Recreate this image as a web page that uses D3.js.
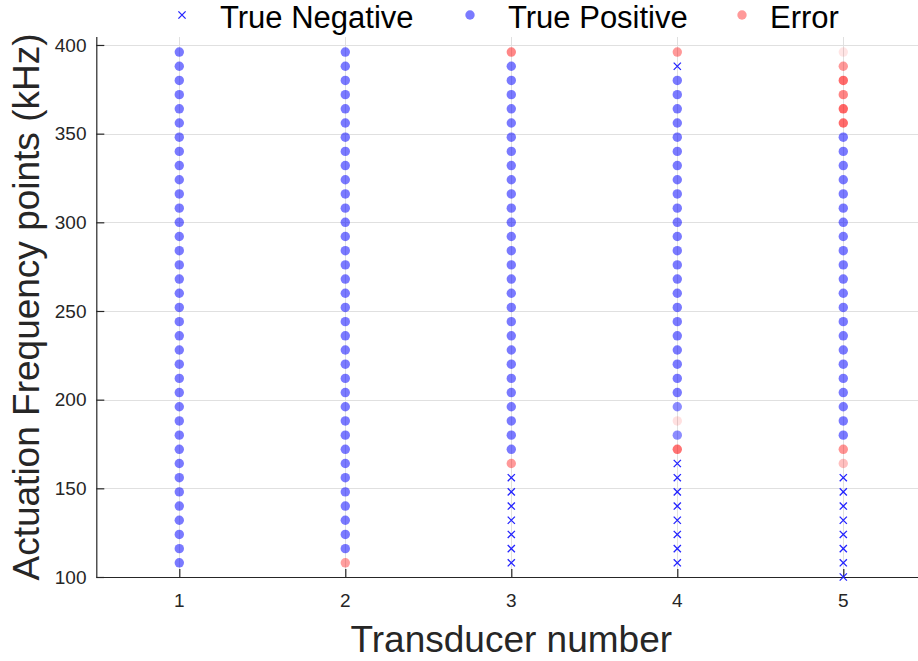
<!DOCTYPE html>
<html>
<head>
<meta charset="utf-8">
<script src="https://cdn.jsdelivr.net/npm/d3@7"></script>
<style>
  html, body { margin: 0; padding: 0; background: #fff; }
  svg { display: block; font-family: "Liberation Sans", Arial, Helvetica, sans-serif; }
</style>
</head>
<body>
<svg id="chart" width="918" height="661"></svg>
<script>
// Transducers on the x axis
const transducers = [1, 2, 3, 4, 5];

// Actuation frequency points (kHz), bottom to top
const frequencies = [100, 108, 116, 124, 132, 140, 148, 156, 164, 172, 180, 188, 196,
  204, 212, 220, 228, 236, 244, 252, 260, 268, 276, 284, 292, 300, 308, 316, 324,
  332, 340, 348, 356, 364, 372, 380, 388, 396];

// Outcome per transducer, one letter per frequency point (groups of 8 points):
// N = true negative, P = true positive, E = error, . = not tested
const outcomeT1 = ".PPPPPPP PPPPPPPP PPPPPPPP PPPPPPPP PPPPPP";
const outcomeT2 = ".EPPPPPP PPPPPPPP PPPPPPPP PPPPPPPP PPPPPP";
const outcomeT3 = ".NNNNNNN EPPPPPPP PPPPPPPP PPPPPPPP PPPPPE";
const outcomeT4 = ".NNNNNNN NEPEPPPP PPPPPPPP PPPPPPPP PPPPNE";
const outcomeT5 = "NNNNNNNN EEPPPPPP PPPPPPPP PPPPPPPP EEEEEE";

// Marker shading where it differs from the default: [transducer, kHz, opacity]
const markerOpacity = [
  [2, 108, 0.38],
  [3, 396, 0.47],
  [4, 172, 0.55], [4, 180, 0.45], [4, 188, 0.12], [4, 196, 0.45], [4, 396, 0.4],
  [5, 164, 0.25], [5, 172, 0.42], [5, 356, 0.58], [5, 364, 0.6], [5, 372, 0.48],
  [5, 380, 0.58], [5, 388, 0.4], [5, 396, 0.1]
];

const legendLabels = ["True Negative", "True Positive", "Error"];
const yTicks = [100, 150, 200, 250, 300, 350, 400];

// ---- build point table ----
const outcomeRows = [outcomeT1, outcomeT2, outcomeT3, outcomeT4, outcomeT5];
const defaultOpacity = { P: 0.52, E: 0.4 };
const points = [];
transducers.forEach((t, ti) => {
  const codes = outcomeRows[ti].replace(/ /g, "");
  frequencies.forEach((f, fi) => {
    const c = codes[fi];
    if (c === "." || c === undefined) return;
    const ov = markerOpacity.find(d => d[0] === t && d[1] === f);
    points.push({ t, f, c, o: ov ? ov[2] : (defaultOpacity[c] || 1) });
  });
});

// ---- layout ----
const svg = d3.select("#chart");
const W = 918, H = 661;
svg.append("rect").attr("width", W).attr("height", H).attr("fill", "#fff");

const x = d3.scaleLinear().domain([0.5, 5.5]).range([96.3, 926.3]);
const y = d3.scaleLinear().domain([100, 404.5]).range([577, 37]);
const [yBottom, yTop] = y.range();
const xLeft = x.range()[0];

const axisColor = "#262626";
const gridColor = "#e0e0e0";

// grid
const grid = svg.append("g");
grid.selectAll("line.h").data(yTicks).join("line")
  .attr("x1", xLeft).attr("x2", W)
  .attr("y1", d => Math.round(y(d)) + 0.5).attr("y2", d => Math.round(y(d)) + 0.5)
  .attr("stroke", gridColor).attr("stroke-width", 1);
grid.selectAll("line.v").data(transducers).join("line")
  .attr("x1", d => Math.round(x(d)) + 0.5).attr("x2", d => Math.round(x(d)) + 0.5)
  .attr("y1", yTop).attr("y2", yBottom)
  .attr("stroke", gridColor).attr("stroke-width", 1);

// axes (inward ticks)
const yAxis = d3.axisRight(y).tickValues(yTicks).tickSize(8).tickFormat("");
const gy = svg.append("g").attr("transform", `translate(${xLeft},0)`).call(yAxis);
gy.select(".domain").attr("d", `M0.5,${yTop}V${yBottom}`);
gy.selectAll("line, path").attr("stroke", axisColor).attr("stroke-width", 1.2);

const xAxis = d3.axisTop(x).tickValues(transducers).tickSize(8).tickFormat("");
const gx = svg.append("g").attr("transform", `translate(0,${yBottom})`).call(xAxis);
gx.select(".domain").attr("d", `M${xLeft},0.5H${W}`);
gx.selectAll("line, path").attr("stroke", axisColor).attr("stroke-width", 1.2);

// tick labels
svg.append("g").selectAll("text").data(yTicks).join("text")
  .attr("x", 86.5).attr("y", d => y(d)).attr("dy", "0.35em")
  .attr("text-anchor", "end").attr("font-size", 19).attr("fill", axisColor)
  .text(d => d);
svg.append("g").selectAll("text").data(transducers).join("text")
  .attr("x", d => x(d)).attr("y", 607)
  .attr("text-anchor", "middle").attr("font-size", 19).attr("fill", axisColor)
  .text(d => d);

// axis titles
svg.append("text")
  .attr("x", (x.range()[0] + x.range()[1]) / 2).attr("y", 652)
  .attr("text-anchor", "middle").attr("font-size", 37).attr("fill", axisColor)
  .text("Transducer number");
svg.append("text")
  .attr("transform", `translate(38.5,${(yTop + yBottom) / 2 + 0}) rotate(-90)`)
  .attr("text-anchor", "middle").attr("font-size", 37).attr("fill", axisColor)
  .text("Actuation Frequency points (kHz)");

// markers
const R = 4.7, X = 3.6;
const crossPath = (cx, cy, s) => `M${cx - s},${cy - s}L${cx + s},${cy + s}M${cx - s},${cy + s}L${cx + s},${cy - s}`;
const marks = svg.append("g");
marks.selectAll("circle").data(points.filter(d => d.c !== "N")).join("circle")
  .attr("cx", d => x(d.t)).attr("cy", d => y(d.f)).attr("r", R)
  .attr("fill", d => d.c === "P" ? "#0000ff" : "#ff0000")
  .attr("fill-opacity", d => d.o);
marks.selectAll("path").data(points.filter(d => d.c === "N")).join("path")
  .attr("d", d => crossPath(x(d.t), y(d.f), X))
  .attr("stroke", "#2424ff").attr("stroke-width", 1.3).attr("fill", "none");

// legend
const legend = svg.append("g");
const legendItems = [
  { label: legendLabels[0], c: "N", mx: 182, tx: 220 },
  { label: legendLabels[1], c: "P", mx: 470, tx: 508 },
  { label: legendLabels[2], c: "E", mx: 742, tx: 770 }
];
legendItems.forEach(it => {
  if (it.c === "N") {
    legend.append("path").attr("d", crossPath(it.mx, 15, X))
      .attr("stroke", "#2424ff").attr("stroke-width", 1.3).attr("fill", "none");
  } else {
    legend.append("circle").attr("cx", it.mx).attr("cy", 15).attr("r", R)
      .attr("fill", it.c === "P" ? "#0000ff" : "#ff0000")
      .attr("fill-opacity", defaultOpacity[it.c]);
  }
  legend.append("text").attr("x", it.tx).attr("y", 28.3)
    .attr("font-size", 31).attr("fill", "#000").text(it.label);
});
</script>
</body>
</html>
